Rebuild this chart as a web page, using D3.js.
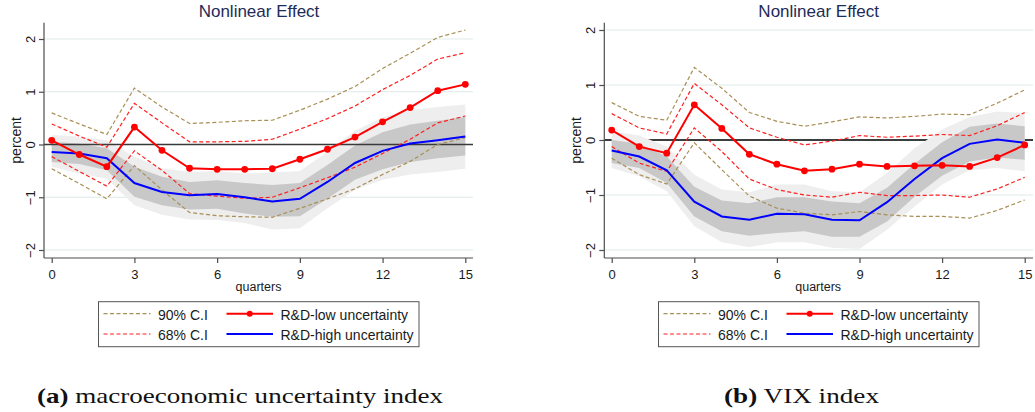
<!DOCTYPE html>
<html>
<head>
<meta charset="utf-8">
<script src="https://cdn.jsdelivr.net/npm/d3@7/dist/d3.min.js"></script>
<style>
  body { margin: 0; background: #fff; }
  svg { display: block; }
</style>
</head>
<body>
<svg id="chart" width="1035" height="412"></svg>
<script>
// Horizon (quarters after the shock) and axis ticks
const quarters = [0, 1, 2, 3, 4, 5, 6, 7, 8, 9, 10, 11, 12, 13, 14, 15];
const xTicks = [0, 3, 6, 9, 12, 15];
const yTicks = [-2, -1, 0, 1, 2];

// Panel (a): macroeconomic uncertainty index
const macroLow     = [0.08, -0.19, -0.42, 0.33, -0.11, -0.45, -0.47, -0.47, -0.46, -0.28, -0.09, 0.14, 0.43, 0.70, 1.02, 1.14];
const macroLow68Up = [0.39, 0.16, -0.05, 0.78, 0.41, 0.05, 0.05, 0.06, 0.10, 0.29, 0.49, 0.73, 1.04, 1.31, 1.62, 1.74];
const macroLow68Lo = [-0.23, -0.51, -0.79, -0.12, -0.49, -0.93, -0.98, -1.02, -1.00, -0.82, -0.63, -0.43, -0.17, 0.10, 0.41, 0.54];
const macroLow90Up = [0.60, 0.39, 0.19, 1.07, 0.71, 0.40, 0.42, 0.45, 0.46, 0.65, 0.86, 1.10, 1.44, 1.73, 2.03, 2.17];
const macroLow90Lo = [-0.46, -0.74, -1.03, -0.40, -0.86, -1.29, -1.35, -1.37, -1.38, -1.21, -1.03, -0.84, -0.57, -0.32, 0.00, 0.13];
const macroHigh     = [-0.14, -0.17, -0.26, -0.73, -0.90, -0.96, -0.94, -1.00, -1.08, -1.03, -0.71, -0.35, -0.12, 0.02, 0.08, 0.15];
const macroHigh68Up = [0.05, 0.02, -0.07, -0.42, -0.61, -0.71, -0.68, -0.73, -0.77, -0.73, -0.39, -0.02, 0.23, 0.38, 0.45, 0.52];
const macroHigh68Lo = [-0.33, -0.37, -0.49, -0.99, -1.15, -1.23, -1.22, -1.31, -1.37, -1.36, -1.03, -0.67, -0.47, -0.33, -0.26, -0.21];
const macroHigh90Up = [0.18, 0.15, 0.08, -0.23, -0.45, -0.52, -0.50, -0.55, -0.53, -0.50, -0.14, 0.26, 0.51, 0.65, 0.71, 0.76];
const macroHigh90Lo = [-0.42, -0.55, -0.65, -1.15, -1.33, -1.42, -1.43, -1.49, -1.61, -1.59, -1.21, -0.86, -0.67, -0.57, -0.52, -0.46];

// Panel (b): VIX index
const vixLow     = [0.18, -0.12, -0.24, 0.64, 0.21, -0.26, -0.44, -0.56, -0.53, -0.44, -0.48, -0.47, -0.46, -0.48, -0.32, -0.09];
const vixLow68Up = [0.48, 0.22, 0.11, 1.03, 0.64, 0.22, 0.05, -0.09, -0.02, 0.08, 0.05, 0.07, 0.10, 0.08, 0.26, 0.50];
const vixLow68Lo = [-0.12, -0.42, -0.57, 0.22, -0.21, -0.71, -0.90, -1.00, -1.04, -0.95, -1.01, -1.01, -1.00, -1.04, -0.89, -0.68];
const vixLow90Up = [0.68, 0.43, 0.36, 1.32, 0.94, 0.50, 0.34, 0.25, 0.33, 0.42, 0.40, 0.43, 0.47, 0.46, 0.67, 0.91];
const vixLow90Lo = [-0.33, -0.63, -0.80, -0.05, -0.54, -1.02, -1.24, -1.33, -1.36, -1.30, -1.36, -1.39, -1.39, -1.42, -1.28, -1.09];
const vixHigh     = [-0.19, -0.30, -0.55, -1.12, -1.39, -1.45, -1.34, -1.35, -1.45, -1.46, -1.13, -0.71, -0.33, -0.07, 0.01, -0.05];
const vixHigh68Up = [0.00, -0.07, -0.30, -0.85, -1.10, -1.15, -1.04, -1.04, -1.12, -1.15, -0.87, -0.43, -0.04, 0.24, 0.30, 0.25];
const vixHigh68Lo = [-0.42, -0.51, -0.78, -1.39, -1.66, -1.74, -1.69, -1.66, -1.76, -1.76, -1.48, -1.03, -0.65, -0.39, -0.32, -0.36];
const vixHigh90Up = [0.16, 0.08, -0.12, -0.63, -0.90, -0.95, -0.81, -0.81, -0.93, -0.95, -0.60, -0.15, 0.19, 0.42, 0.52, 0.49];
const vixHigh90Lo = [-0.51, -0.66, -0.93, -1.57, -1.86, -1.95, -1.86, -1.86, -1.96, -1.98, -1.63, -1.21, -0.81, -0.55, -0.51, -0.57];

// Text
const titleText = "Nonlinear Effect";
const yLabel = "percent";
const xLabel = "quarters";
const legendLabels = ["90% C.I", "68% C.I", "R&D-low uncertainty", "R&D-high uncertainty"];
const captionTags = ["(a)", "(b)"];
const captionTexts = ["macroeconomic uncertainty index", "VIX index"];

// Colours
const C = {
  sand: "#a88f55",
  red: "#ff0000",
  redDash: "#ff2020",
  blue: "#0000ff",
  band68: "#c8c8c8",
  band90: "#eeeeee",
  grid: "#dfe9e9",
  axis: "#4d4d4d",
  title: "#1e2b57",
  text: "#1a1a1a"
};

// Layout of the two panels
const panels = [
  {
    low: macroLow, low68: [macroLow68Up, macroLow68Lo], low90: [macroLow90Up, macroLow90Lo],
    high: macroHigh, high68: [macroHigh68Up, macroHigh68Lo], high90: [macroHigh90Up, macroHigh90Lo],
    axisX: 44, plotRight: 473, xRange: [51.7, 465.3], yRange: [250, 39],
    zeroOnTop: true, zeroColor: "#3a3a3a",
    legendX: 98.5, captionX: 37, captionW: 406,
    caption: 0
  },
  {
    low: vixLow, low68: [vixLow68Up, vixLow68Lo], low90: [vixLow90Up, vixLow90Lo],
    high: vixHigh, high68: [vixHigh68Up, vixHigh68Lo], high90: [vixHigh90Up, vixHigh90Lo],
    axisX: 604.3, plotRight: 1033, xRange: [611.7, 1024.7], yRange: [250, 30],
    zeroOnTop: false, zeroColor: "#000000",
    legendX: 658.5, captionX: 724, captionW: 155,
    caption: 1
  }
];

const plotTop = 22.7, plotBottom = 258;
const svg = d3.select("#chart");
const sans = "'Liberation Sans', Arial, Helvetica, sans-serif";
const dash = "4,2.5";

panels.forEach((p) => {
  const x = d3.scaleLinear().domain([0, 15]).range(p.xRange);
  const y = d3.scaleLinear().domain([-2, 2]).range(p.yRange);
  const g = svg.append("g");

  // horizontal grid lines
  g.append("g").selectAll("line").data(yTicks).join("line")
    .attr("x1", p.axisX).attr("x2", p.plotRight)
    .attr("y1", d => y(d)).attr("y2", d => y(d))
    .attr("stroke", C.grid).attr("stroke-width", 1);

  const zero = () => g.append("line")
    .attr("x1", p.axisX).attr("x2", p.plotRight)
    .attr("y1", y(0)).attr("y2", y(0))
    .attr("stroke", p.zeroColor).attr("stroke-width", 1.3);

  if (!p.zeroOnTop) zero();

  // confidence bands of the high-uncertainty response
  const area = (up, lo) => d3.area()
    .x((d, i) => x(quarters[i]))
    .y0((d, i) => y(lo[i]))
    .y1((d, i) => y(up[i]))(quarters);

  g.append("path").attr("d", area(p.high90[0], p.high90[1])).attr("fill", C.band90);
  g.append("path").attr("d", area(p.high68[0], p.high68[1])).attr("fill", C.band68);

  if (p.zeroOnTop) zero();

  const line = d3.line().x((d, i) => x(quarters[i])).y(d => y(d));

  // confidence intervals of the low-uncertainty response
  [[p.low90, C.sand], [p.low68, C.redDash]].forEach(([pair, col]) => {
    pair.forEach(series => {
      g.append("path").attr("d", line(series))
        .attr("fill", "none").attr("stroke", col)
        .attr("stroke-width", 1.2).attr("stroke-dasharray", dash);
    });
  });

  // point estimates
  g.append("path").attr("d", line(p.high))
    .attr("fill", "none").attr("stroke", C.blue).attr("stroke-width", 2);
  g.append("path").attr("d", line(p.low))
    .attr("fill", "none").attr("stroke", C.red).attr("stroke-width", 2);
  g.append("g").selectAll("circle").data(p.low).join("circle")
    .attr("cx", (d, i) => x(quarters[i])).attr("cy", d => y(d))
    .attr("r", 3.4).attr("fill", C.red);

  // axes
  const yAxis = g.append("g").attr("transform", `translate(${p.axisX},0)`)
    .call(d3.axisLeft(y).tickValues(yTicks).tickSize(5).tickFormat(d3.format("d")));
  yAxis.select(".domain").attr("d", `M0,${plotTop}V${plotBottom}`);
  const xAxis = g.append("g").attr("transform", `translate(0,${plotBottom})`)
    .call(d3.axisBottom(x).tickValues(xTicks).tickSize(5).tickFormat(d3.format("d")));
  xAxis.select(".domain").attr("d", `M${p.axisX},0H${p.plotRight}`);

  [yAxis, xAxis].forEach(a => {
    a.select(".domain").attr("stroke", C.axis).attr("stroke-width", 1.2);
    a.selectAll(".tick line").attr("stroke", C.axis).attr("stroke-width", 1.2);
    a.selectAll(".tick text").attr("fill", C.text)
      .style("font-family", sans).style("font-size", "13px");
  });
  xAxis.selectAll(".tick text").attr("dy", null).attr("y", 21);
  // rotated tick labels on the vertical axis, centred on each tick
  yAxis.selectAll(".tick text")
    .attr("x", null).attr("y", 0).attr("dy", null)
    .attr("text-anchor", "middle")
    .attr("transform", "translate(-9,0) rotate(-90)");

  const midX = (p.xRange[0] + p.xRange[1]) / 2;

  // title
  g.append("text").attr("x", midX + 0.5).attr("y", 17)
    .attr("text-anchor", "middle").attr("fill", C.title)
    .style("font-family", sans).style("font-size", "17px").text(titleText);

  // axis titles
  g.append("text").attr("transform", `translate(${p.axisX - 23},${(plotTop + plotBottom) / 2}) rotate(-90)`)
    .attr("text-anchor", "middle").attr("fill", C.text)
    .style("font-family", sans).style("font-size", "14px").text(yLabel);
  g.append("text").attr("x", midX).attr("y", 291)
    .attr("text-anchor", "middle").attr("fill", C.text)
    .style("font-family", sans).style("font-size", "12.5px").text(xLabel);

  // legend
  const L = g.append("g").attr("transform", `translate(${p.legendX},301.7)`);
  L.append("rect").attr("width", 320.5).attr("height", 45)
    .attr("fill", "#fff").attr("stroke", "#555").attr("stroke-width", 1);
  const rowY = [12, 32.3];
  const items = [
    { col: 0, row: 0, stroke: C.sand, dash: dash, w: 1.2, label: legendLabels[0] },
    { col: 0, row: 1, stroke: C.redDash, dash: dash, w: 1.2, label: legendLabels[1] },
    { col: 1, row: 0, stroke: C.red, dash: null, w: 2, label: legendLabels[2], marker: true },
    { col: 1, row: 1, stroke: C.blue, dash: null, w: 2, label: legendLabels[3] }
  ];
  const colX = [[5, 52, 59.5], [128, 174.5, 182]];
  items.forEach(it => {
    const [a, b, t] = colX[it.col];
    L.append("line").attr("x1", a).attr("x2", b)
      .attr("y1", rowY[it.row]).attr("y2", rowY[it.row])
      .attr("stroke", it.stroke).attr("stroke-width", it.w)
      .attr("stroke-dasharray", it.dash);
    if (it.marker) {
      L.append("circle").attr("cx", (a + b) / 2).attr("cy", rowY[it.row])
        .attr("r", 3).attr("fill", it.stroke);
    }
    L.append("text").attr("x", t).attr("y", rowY[it.row] + 6.5)
      .attr("fill", C.text).style("font-family", sans).style("font-size", "14px")
      .text(it.label);
  });

  // sub-figure caption
  const cap = svg.append("text").attr("x", p.captionX).attr("y", 403)
    .attr("fill", "#111")
    .style("font-family", "'Liberation Serif', 'Times New Roman', serif")
    .style("font-size", "22px");
  cap.append("tspan").style("font-weight", "bold").text(captionTags[p.caption]);
  cap.append("tspan").text(" " + captionTexts[p.caption]);
  cap.attr("textLength", p.captionW).attr("lengthAdjust", "spacingAndGlyphs");
});
</script>
</body>
</html>
